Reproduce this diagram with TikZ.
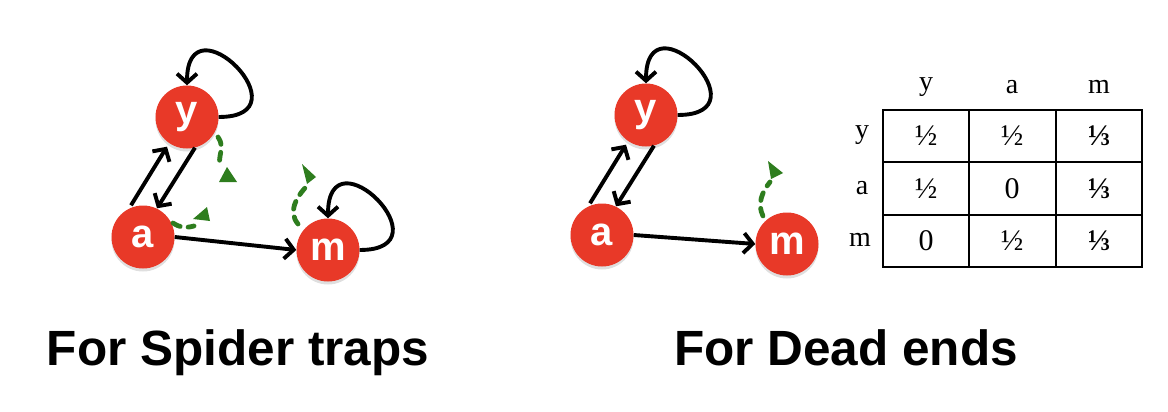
\documentclass[tikz,border=0pt]{standalone}
\usepackage{fontspec}
\setmainfont{Liberation Serif}
\newfontfamily\arialfont{Liberation Sans}
\usetikzlibrary{arrows.meta,shadows}
\definecolor{nodered}{RGB}{232,57,40}
\definecolor{dgreen}{RGB}{46,125,30}
\tikzset{
  pnode/.style={circle,fill=nodered,minimum size=63pt,inner sep=0pt,
    text=white,font=\arialfont\bfseries\fontsize{40}{40}\selectfont,
    drop shadow={opacity=0.25,shadow xshift=0pt,shadow yshift=-3pt}},
  edge/.style={line width=3.9pt,-{Straight Barb[length=9pt,width=20pt,line width=3.9pt]}},
  gdash/.style={dgreen,line width=4.8pt,line cap=round,dash pattern=on 8pt off 8pt},
  ghead/.style={fill=dgreen},
  title/.style={font=\arialfont\bfseries\fontsize{49.5}{49.5}\selectfont,anchor=base},
  tcell/.style={font=\fontsize{30}{30}\selectfont},
  thead/.style={font=\fontsize{28}{28}\selectfont},
}
\begin{document}
\begin{tikzpicture}[x=1pt,y=-1pt]
\useasboundingbox (0,0) rectangle (1168,412);
% ---------- left graph ----------
\node[pnode] (y1) at (187,117) {y};
\node[pnode] (a1) at (143,237) {a};
\node[pnode] (m1) at (328,250) {m};
\draw[edge] (y1.east) .. controls +(90,0) and +(0,-90) .. (y1.north);
\draw[edge] (m1.east) .. controls +(90,0) and +(0,-90) .. (m1.north);
\draw[edge] ([xshift=-12pt]a1.north) -- ([xshift=-20pt,yshift=2pt]y1.south);
\draw[edge] ([xshift=8pt,yshift=1pt]y1.south) -- ([xshift=14pt,yshift=-3pt]a1.north);
\draw[edge] (a1.east) -- (m1.west);
% green dashed
\coordinate (g1s) at (218,137);
\coordinate (g1e) at (221,168);
\draw[gdash] (g1s) .. controls (226,148) and (216,158) .. (g1e);
\fill[ghead] (227,167) -- (237,182) -- (219,182) -- cycle;
\coordinate (g2s) at (173,223);
\coordinate (g2e) at (194,226);
\draw[gdash] (g2s) .. controls (180,228) and (188,228) .. (g2e);
\fill[ghead] (207,207) -- (210,221) -- (193,219) -- cycle;
\coordinate (g3s) at (298,224);
\coordinate (g3e) at (305,188);
\draw[gdash] (g3s) .. controls (288,212) and (296,198) .. (g3e);
\fill[ghead] (302,164) -- (316,177) -- (307,184) -- cycle;
% ---------- right graph ----------
\node[pnode] (y2) at (646,115) {y};
\node[pnode] (a2) at (602,235) {a};
\node[pnode] (m2) at (787,244) {m};
\draw[edge] (y2.east) .. controls +(90,0) and +(0,-90) .. (y2.north);
\draw[edge] ([xshift=-12pt]a2.north) -- ([xshift=-20pt,yshift=2pt]y2.south);
\draw[edge] ([xshift=8pt,yshift=1pt]y2.south) -- ([xshift=14pt,yshift=-3pt]a2.north);
\draw[edge] (a2.east) -- (m2.west);
\coordinate (g4s) at (763,216);
\coordinate (g4e) at (770,182);
\draw[gdash] (g4s) .. controls (757,204) and (762,192) .. (g4e);
\fill[ghead] (768,161) -- (783,173) -- (771,179) -- cycle;
% ---------- table ----------
\draw[line width=1.6pt] (883,110) rectangle (1142,267);
\draw[line width=1.6pt] (969,110) -- (969,267);
\draw[line width=1.6pt] (1056,110) -- (1056,267);
\draw[line width=1.6pt] (883,162) -- (1142,162);
\draw[line width=1.6pt] (883,215) -- (1142,215);
\node[thead] (hy) at (926,87) {y};
\node[thead] (ha) at (1012,87) {a};
\node[thead] (hm) at (1099,87) {m};
\node[thead] (ry) at (862,135) {y};
\node[thead] (ra) at (862,188) {a};
\node[thead] (rm) at (860,240) {m};
\node[tcell] (c11) at (926,136) {½};
\node[tcell] (c12) at (1012,136) {½};
\node[tcell] (c13) at (1099,136) {\textbf{⅓}};
\node[tcell] (c21) at (926,189) {½};
\node[tcell] (c22) at (1012,189) {0};
\node[tcell] (c23) at (1099,189) {\textbf{⅓}};
\node[tcell] (c31) at (926,241) {0};
\node[tcell] (c32) at (1012,241) {½};
\node[tcell] (c33) at (1099,241) {\textbf{⅓}};
% ---------- titles ----------
\node[title] (t1) at (238,365) {For Spider traps};
\node[title] (t2) at (846,365) {For Dead ends};
\end{tikzpicture}
\end{document}
